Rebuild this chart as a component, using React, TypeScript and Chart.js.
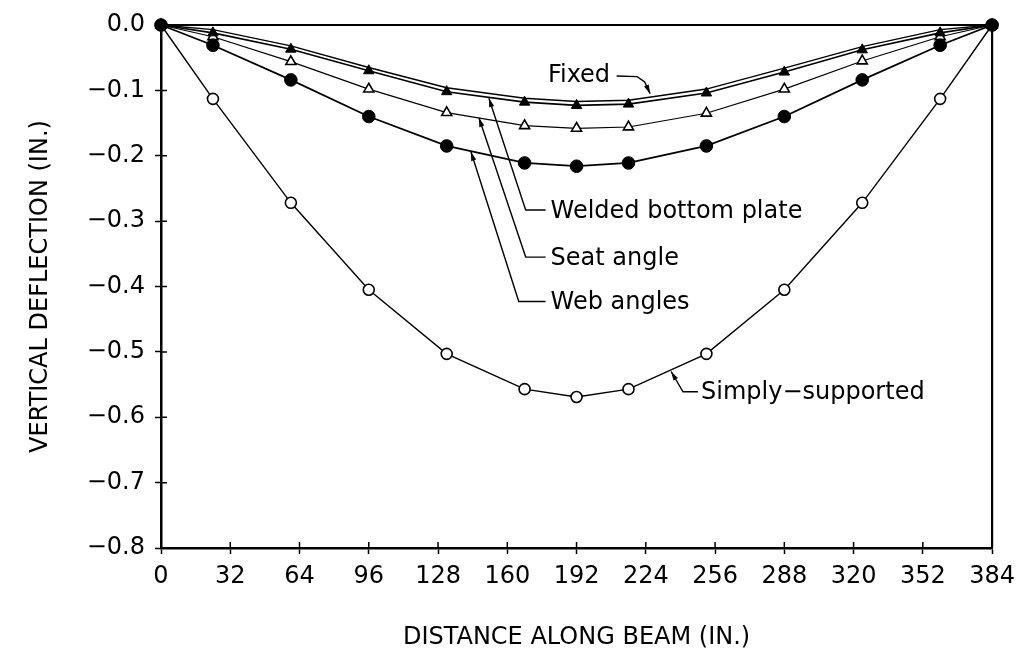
import { useEffect, useRef } from "react";
import { Chart, registerables } from "chart.js";

Chart.register(...registerables);

// Distance along beam (in.)
const positions = [0, 24, 60, 96, 132, 168, 192, 216, 252, 288, 324, 360, 384];
// Vertical deflection (in.)
const simplySupported = [0, -0.113, -0.272, -0.405, -0.503, -0.557, -0.569, -0.557, -0.503, -0.405, -0.272, -0.113, 0];
const webAngles = [0, -0.031, -0.084, -0.14, -0.185, -0.211, -0.216, -0.211, -0.185, -0.14, -0.084, -0.031, 0];
const seatAngle = [0, -0.018, -0.056, -0.098, -0.134, -0.154, -0.158, -0.156, -0.135, -0.098, -0.055, -0.018, 0];
const weldedBottomPlate = [0, -0.012, -0.037, -0.07, -0.102, -0.118, -0.123, -0.121, -0.104, -0.072, -0.038, -0.012, 0];
const fixedEnds = [0, -0.007, -0.032, -0.065, -0.096, -0.112, -0.117, -0.115, -0.098, -0.066, -0.033, -0.007, 0];

const xTitle = "DISTANCE ALONG BEAM (IN.)";
const yTitle = "VERTICAL DEFLECTION (IN.)";

const FONT = '"DejaVu Sans", sans-serif';

// Leader-line labels (anchor points in data units; first point is the arrow tip)
const notes = [
  { text: "Fixed", align: "right", textAt: [207.5, -0.078], path: [[226, -0.105], [223.5, -0.087], [220, -0.079], [210.5, -0.078]] },
  { text: "Welded bottom plate", align: "left", textAt: [180, -0.286], path: [[151.5, -0.112], [168.5, -0.283], [177.7, -0.283]] },
  { text: "Seat angle", align: "left", textAt: [180, -0.357], path: [[146.9, -0.142], [168.5, -0.355], [177.7, -0.355]] },
  { text: "Web angles", align: "left", textAt: [180, -0.425], path: [[143.2, -0.194], [165.3, -0.423], [177.7, -0.423]] },
  { text: "Simply\u2212supported", align: "left", textAt: [249.5, -0.562], path: [[235.7, -0.53], [241.2, -0.561], [248.1, -0.561]] },
];

const toPoints = (ys: number[]) => positions.map((x, i) => ({ x, y: ys[i] }));

const framePlugin = {
  id: "frame",
  beforeDatasetsDraw(chart: any) {
    const { ctx, chartArea: a, scales } = chart;
    ctx.save();
    ctx.strokeStyle = "#000";
    ctx.lineWidth = 2.2;
    ctx.beginPath();
    ctx.moveTo(a.left, a.top);
    ctx.lineTo(a.right, a.top);
    ctx.lineTo(a.right, a.bottom);
    ctx.stroke();
    // inner halves of the tick marks
    ctx.lineWidth = 1.5;
    ctx.beginPath();
    scales.x.ticks.forEach((t: any) => {
      const p = scales.x.getPixelForValue(t.value);
      ctx.moveTo(p, a.bottom);
      ctx.lineTo(p, a.bottom - 6);
    });
    scales.y.ticks.forEach((t: any) => {
      const p = scales.y.getPixelForValue(t.value);
      ctx.moveTo(a.left, p);
      ctx.lineTo(a.left + 6, p);
    });
    ctx.stroke();
    ctx.restore();
  },
};

const leaderPlugin = {
  id: "leaders",
  afterDatasetsDraw(chart: any) {
    const { ctx, scales } = chart;
    const px = (v: number) => scales.x.getPixelForValue(v);
    const py = (v: number) => scales.y.getPixelForValue(v);
    ctx.save();
    ctx.strokeStyle = "#000";
    ctx.fillStyle = "#000";
    ctx.lineWidth = 1.4;
    ctx.font = `24px ${FONT}`;
    ctx.textBaseline = "middle";
    notes.forEach((n) => {
      const pts = n.path.map(([vx, vy]) => [px(vx), py(vy)]);
      ctx.beginPath();
      ctx.moveTo(pts[0][0], pts[0][1]);
      for (let i = 1; i < pts.length; i++) ctx.lineTo(pts[i][0], pts[i][1]);
      ctx.stroke();
      // arrow head at tip
      const [tx, ty] = pts[0];
      const [sx, sy] = pts[1];
      const ang = Math.atan2(ty - sy, tx - sx);
      const len = 9;
      const hw = 2.6;
      ctx.beginPath();
      ctx.moveTo(tx, ty);
      ctx.lineTo(tx - len * Math.cos(ang) + hw * Math.sin(ang), ty - len * Math.sin(ang) - hw * Math.cos(ang));
      ctx.lineTo(tx - len * Math.cos(ang) - hw * Math.sin(ang), ty - len * Math.sin(ang) + hw * Math.cos(ang));
      ctx.closePath();
      ctx.fill();
      ctx.textAlign = n.align as CanvasTextAlign;
      ctx.fillText(n.text, px(n.textAt[0]), py(n.textAt[1]));
    });
    ctx.restore();
  },
};

export default function App() {
  const ref = useRef<HTMLCanvasElement>(null);
  useEffect(() => {
    document.body.style.margin = "0";
    const chart = new Chart(ref.current as HTMLCanvasElement, {
      type: "line",
      data: {
        datasets: [
          {
            label: "Web angles",
            data: toPoints(webAngles),
            clip: false,
            borderColor: "#000",
            borderWidth: 1.8,
            pointStyle: "circle",
            pointRadius: 6.3,
            pointBackgroundColor: "#000",
            pointBorderColor: "#000",
            pointBorderWidth: 1,
          },
          {
            label: "Simply-supported",
            data: toPoints(simplySupported),
            clip: false,
            borderColor: "#000",
            borderWidth: 1.4,
            pointStyle: "circle",
            pointRadius: 5.5,
            pointBackgroundColor: "#fff",
            pointBorderColor: "#000",
            pointBorderWidth: 1.6,
          },
          {
            label: "Welded bottom plate",
            data: toPoints(weldedBottomPlate),
            clip: false,
            borderColor: "#000",
            borderWidth: 1.6,
            pointStyle: "triangle",
            pointRadius: 6,
            pointBackgroundColor: "#000",
            pointBorderColor: "#000",
            pointBorderWidth: 1,
          },
          {
            label: "Seat angle",
            data: toPoints(seatAngle),
            clip: false,
            borderColor: "#000",
            borderWidth: 1.2,
            pointStyle: "triangle",
            pointRadius: 5.8,
            pointBackgroundColor: "#fff",
            pointBorderColor: "#000",
            pointBorderWidth: 1.6,
          },
          {
            label: "Fixed",
            data: toPoints(fixedEnds),
            clip: false,
            borderColor: "#000",
            borderWidth: 1.4,
            pointRadius: 0,
          },
        ],
      },
      options: {
        responsive: false,
        animation: false,
        devicePixelRatio: 1,
        layout: { padding: { left: 0, right: 28, top: 25, bottom: 0 } },
        elements: { line: { tension: 0 } },
        plugins: { legend: { display: false }, tooltip: { enabled: false } },
        scales: {
          x: {
            type: "linear",
            min: 0,
            max: 384,
            ticks: { stepSize: 32, color: "#000", font: { family: FONT, size: 24 }, padding: 8, maxRotation: 0, autoSkip: false },
            grid: { drawOnChartArea: false, drawTicks: true, tickLength: 6, tickWidth: 1.5, tickColor: "#000" },
            border: { display: true, color: "#000", width: 2.5 },
            title: { display: true, text: xTitle, color: "#000", font: { family: FONT, size: 24 }, padding: { top: 0, bottom: 0 } },
            afterFit: (s: any) => {
              s.height = 104;
            },
          },
          y: {
            type: "linear",
            min: -0.8,
            max: 0,
            ticks: {
              stepSize: 0.1,
              color: "#000",
              font: { family: FONT, size: 24 },
              padding: 10,
              callback: (v: any) => {
                const n = Number(v);
                const s = Math.abs(n) < 1e-9 ? "0.0" : n.toFixed(1);
                return s.replace("-", "\u2212");
              },
            },
            grid: { drawOnChartArea: false, drawTicks: true, tickLength: 6, tickWidth: 1.5, tickColor: "#000" },
            border: { display: true, color: "#000", width: 2.5 },
            title: { display: true, text: yTitle, color: "#000", font: { family: FONT, size: 24 }, padding: { top: 26, bottom: 0 } },
            afterFit: (s: any) => {
              s.width = 161;
            },
          },
        },
      },
      plugins: [framePlugin, leaderPlugin],
    } as any);
    return () => chart.destroy();
  }, []);
  return <canvas ref={ref} width={1023} height={652} style={{ display: "block", width: "1023px", height: "652px" }} />;
}
